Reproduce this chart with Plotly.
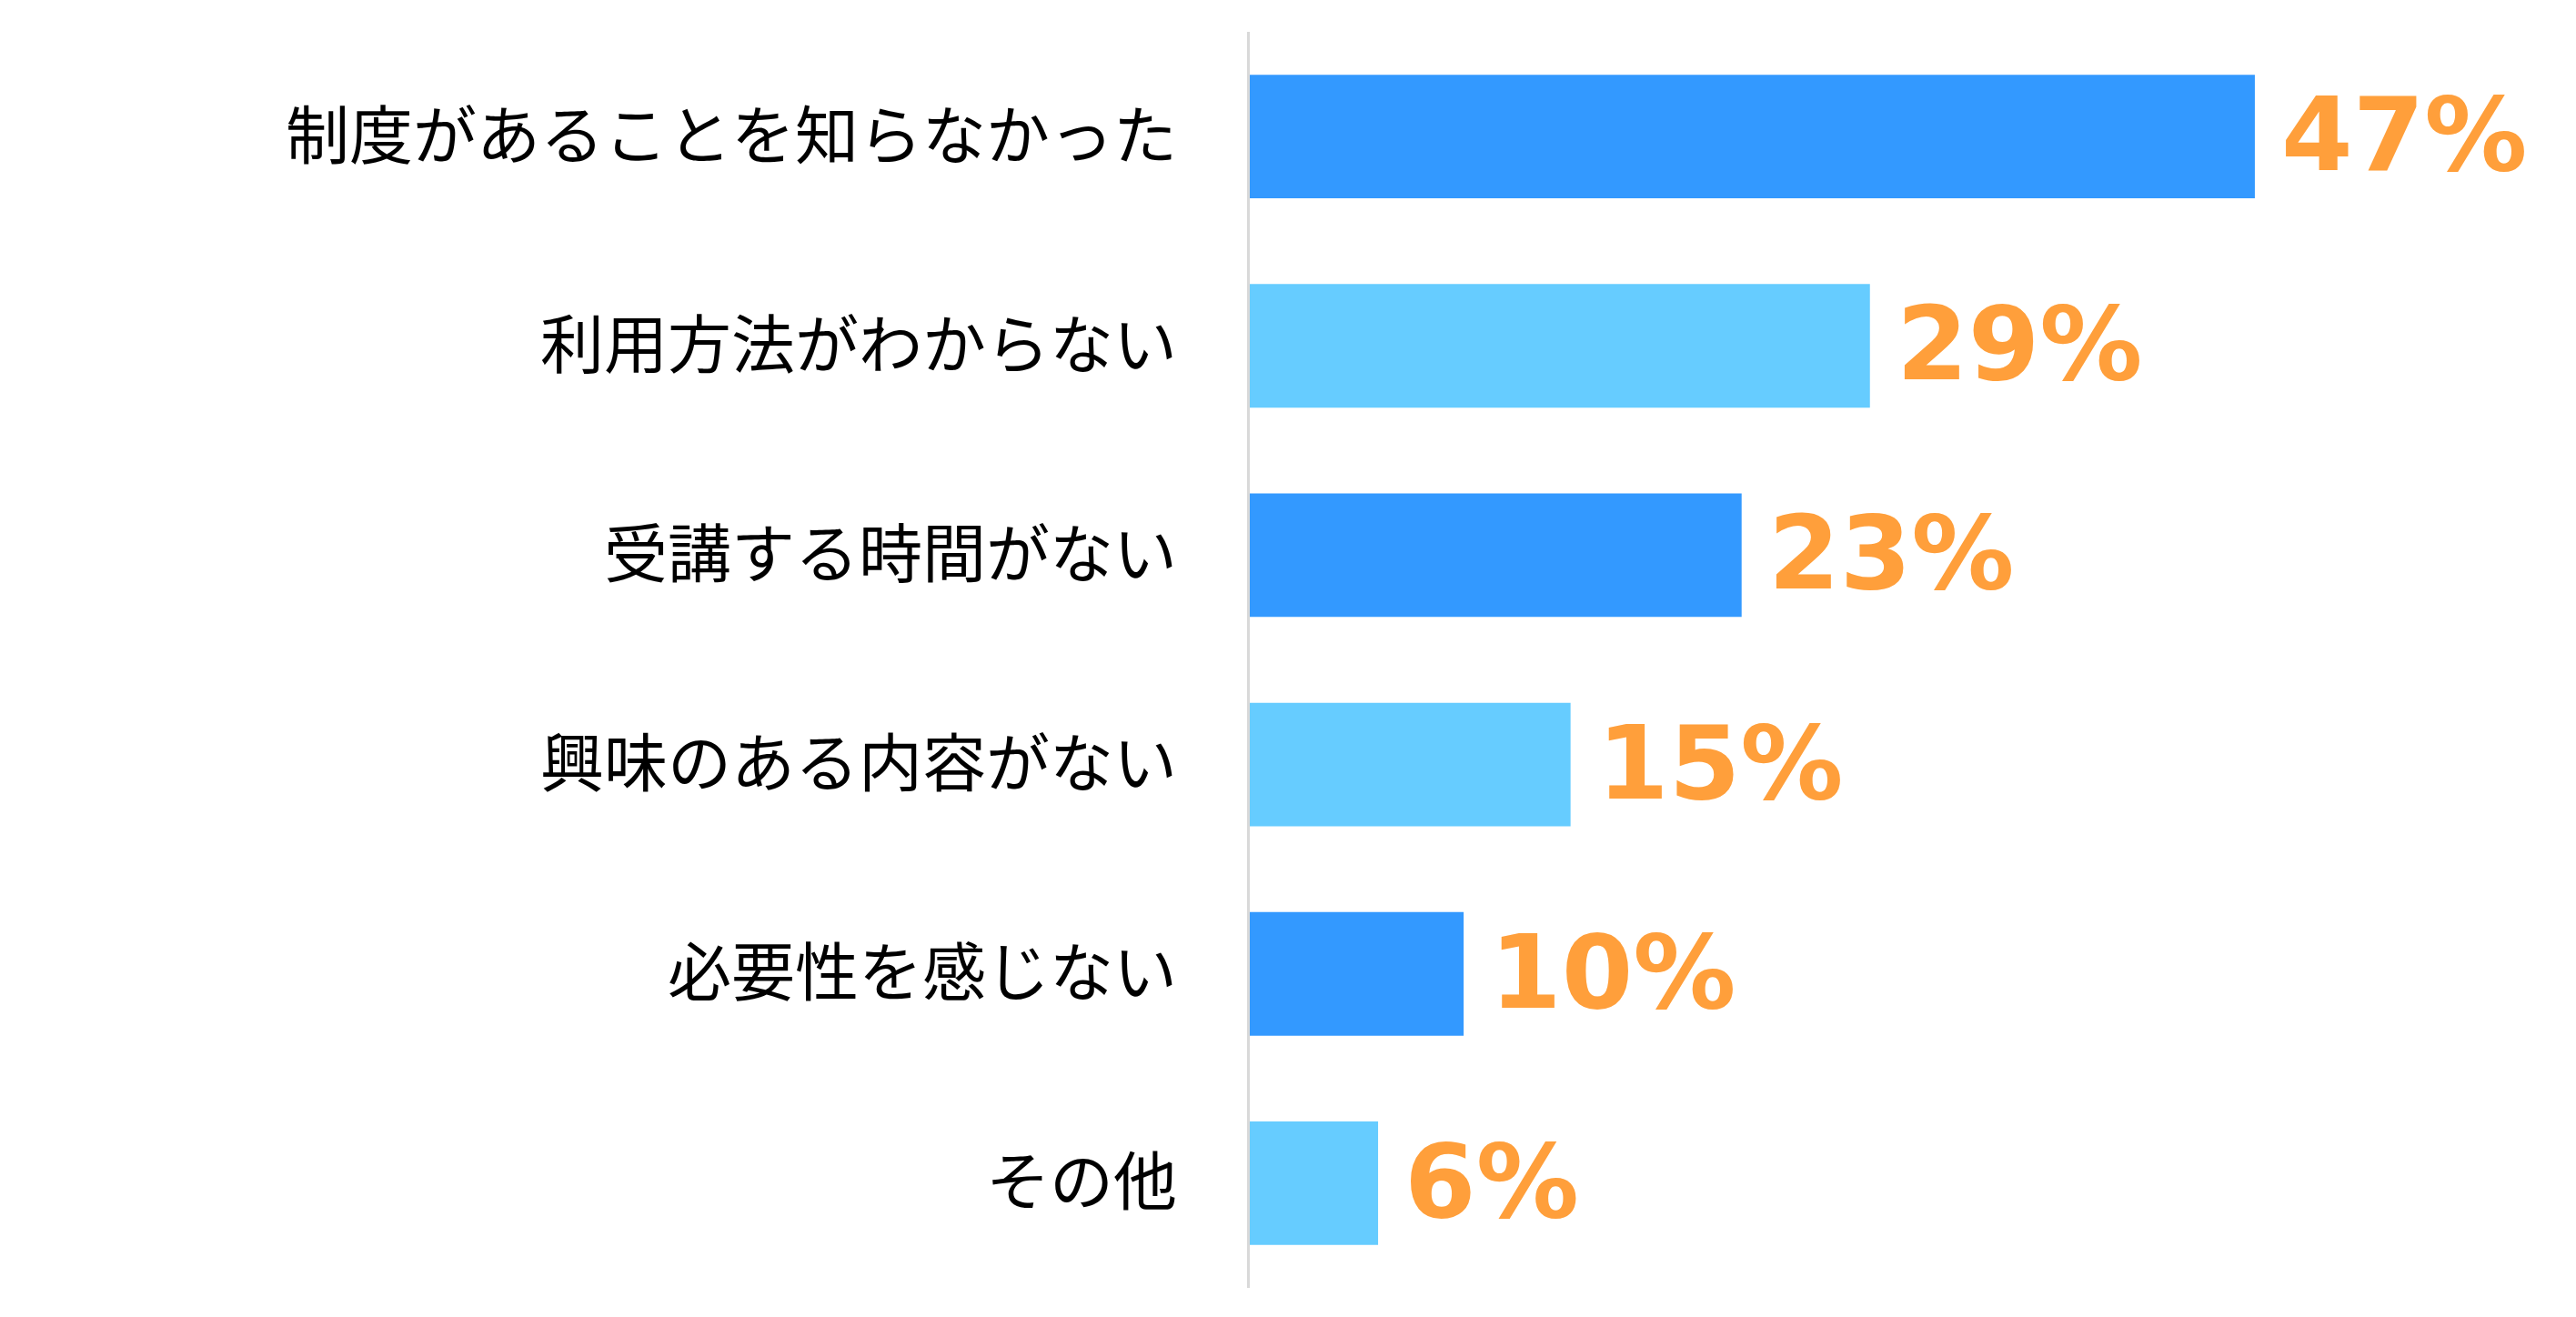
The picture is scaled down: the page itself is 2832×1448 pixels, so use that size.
import plotly.graph_objects as go

# 回答項目と割合(%)
categories = ["制度があることを知らなかった", "利用方法がわからない", "受講する時間がない",
              "興味のある内容がない", "必要性を感じない", "その他"]
values = [47, 29, 23, 15, 10, 6]
labels = ["47%", "29%", "23%", "15%", "10%", "6%"]
bar_colors = ["#3399FF", "#66CCFF", "#3399FF", "#66CCFF", "#3399FF", "#66CCFF"]

fig = go.Figure()
fig.add_trace(go.Bar(
    x=values, y=categories, orientation="h",
    marker=dict(color=bar_colors, line=dict(width=0)),
    width=0.59, hoverinfo="skip",
))

# 値ラベル(バーの右側)
for c, v, t in zip(categories, values, labels):
    fig.add_annotation(x=v, y=c, text=t, showarrow=False, xanchor="left",
                       xshift=27, yshift=2,
                       font=dict(family="DejaVu Sans", size=113, color="#FF9F3B", weight="bold"))

fig.update_yaxes(autorange="reversed", showline=True, linecolor="#D9D9D9", linewidth=3,
                 ticks="", ticklabelstandoff=63, showgrid=False, zeroline=False,
                 tickfont=dict(family="Noto Sans CJK JP", size=70, color="#000000"))
fig.update_xaxes(range=[0, 60.7], visible=False)
fig.update_layout(width=2832, height=1448, plot_bgcolor="white", paper_bgcolor="white",
                  margin=dict(l=1366, r=39, t=27, b=40), showlegend=False)

fig.write_html("out.html")
